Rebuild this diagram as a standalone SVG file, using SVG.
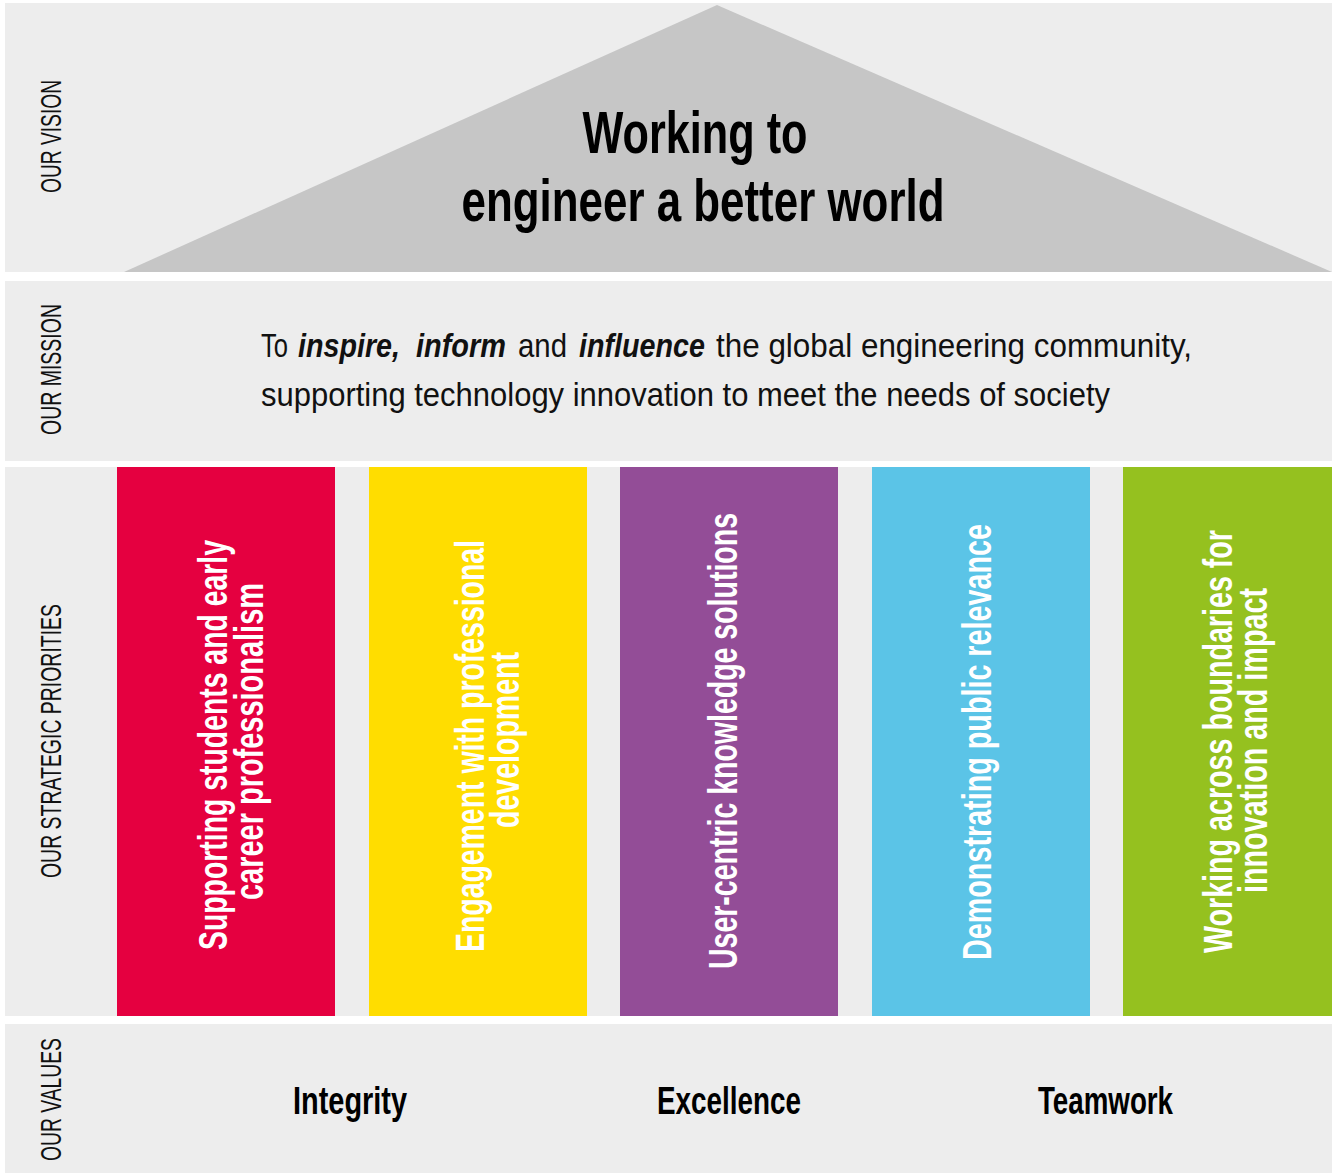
<svg xmlns="http://www.w3.org/2000/svg" width="1333" height="1173" viewBox="0 0 1333 1173">
<style>
.band{fill:#ededed}
.side{font-family:"Liberation Sans Narrow","Liberation Sans",Arial,sans-serif;font-size:29px;fill:#111;text-anchor:middle}
.col{font-family:"Liberation Sans Narrow","Liberation Sans",Arial,sans-serif;font-size:41px;font-weight:bold;fill:#fff;text-anchor:middle}
.title{font-family:"Liberation Sans Narrow","Liberation Sans",Arial,sans-serif;font-size:60px;font-weight:bold;fill:#000;text-anchor:middle}
.mission{font-family:"Liberation Sans Narrow","Liberation Sans",Arial,sans-serif;font-size:34px;fill:#111}
.em{font-weight:bold;font-style:italic}
.value{font-family:"Liberation Sans Narrow","Liberation Sans",Arial,sans-serif;font-size:38px;font-weight:bold;fill:#000;text-anchor:middle}
</style>
<rect width="1333" height="1173" fill="#ffffff"/>
<g id="vision">
<rect class="band" x="5" y="3" width="1327" height="269"/>
<polygon points="717,5 1332,272 124,272" fill="#c6c6c6"/>
<text class="side" transform="translate(61,136.5) rotate(-90)" textLength="113" lengthAdjust="spacingAndGlyphs">OUR VISION</text>
<text class="title" x="695" y="153" textLength="225" lengthAdjust="spacingAndGlyphs">Working to</text>
<text class="title" x="703" y="221" textLength="483" lengthAdjust="spacingAndGlyphs">engineer a better world</text>
</g>
<g id="mission">
<rect class="band" x="5" y="281" width="1327" height="180"/>
<text class="side" transform="translate(61,369.5) rotate(-90)" textLength="131" lengthAdjust="spacingAndGlyphs">OUR MISSION</text>
<text class="mission" x="261" y="357" textLength="27" lengthAdjust="spacingAndGlyphs">To</text>
<text class="mission em" x="298" y="357" textLength="102" lengthAdjust="spacingAndGlyphs">inspire,</text>
<text class="mission em" x="416" y="357" textLength="90" lengthAdjust="spacingAndGlyphs">inform</text>
<text class="mission" x="518" y="357" textLength="49" lengthAdjust="spacingAndGlyphs">and</text>
<text class="mission em" x="579" y="357" textLength="126" lengthAdjust="spacingAndGlyphs">influence</text>
<text class="mission" x="716" y="357" textLength="476" lengthAdjust="spacingAndGlyphs">the global engineering community,</text>
<text class="mission" x="261" y="406" textLength="849" lengthAdjust="spacingAndGlyphs">supporting technology innovation to meet the needs of society</text>
</g>
<g id="priorities">
<rect class="band" x="5" y="467" width="1327" height="549"/>
<text class="side" transform="translate(61,741) rotate(-90)" textLength="274" lengthAdjust="spacingAndGlyphs">OUR STRATEGIC PRIORITIES</text>
</g>
<g id="priority-students">
<rect x="117" y="467" width="218" height="549" fill="#e50040"/>
<text class="col" transform="translate(227,745) rotate(-90)" textLength="410" lengthAdjust="spacingAndGlyphs">Supporting students and early</text>
<text class="col" transform="translate(263,741.5) rotate(-90)" textLength="317" lengthAdjust="spacingAndGlyphs">career professionalism</text>
</g>
<g id="priority-engagement">
<rect x="369" y="467" width="218" height="549" fill="#ffdd00"/>
<text class="col" transform="translate(484,746) rotate(-90)" textLength="412" lengthAdjust="spacingAndGlyphs">Engagement with professional</text>
<text class="col" transform="translate(519,740) rotate(-90)" textLength="176" lengthAdjust="spacingAndGlyphs">development</text>
</g>
<g id="priority-knowledge">
<rect x="620" y="467" width="218" height="549" fill="#934d97"/>
<text class="col" transform="translate(737,741) rotate(-90)" textLength="456" lengthAdjust="spacingAndGlyphs">User-centric knowledge solutions</text>
</g>
<g id="priority-public">
<rect x="872" y="467" width="218" height="549" fill="#5bc4e7"/>
<text class="col" transform="translate(991,742) rotate(-90)" textLength="436" lengthAdjust="spacingAndGlyphs">Demonstrating public relevance</text>
</g>
<g id="priority-boundaries">
<rect x="1123" y="467" width="209" height="549" fill="#95c11f"/>
<text class="col" transform="translate(1232,741.5) rotate(-90)" textLength="423" lengthAdjust="spacingAndGlyphs">Working across boundaries for</text>
<text class="col" transform="translate(1267,740.5) rotate(-90)" textLength="305" lengthAdjust="spacingAndGlyphs">innovation and impact</text>
</g>
<g id="values">
<rect class="band" x="5" y="1024" width="1327" height="149"/>
<text class="side" transform="translate(61,1099.5) rotate(-90)" textLength="123" lengthAdjust="spacingAndGlyphs">OUR VALUES</text>
<text class="value" x="350" y="1114" textLength="114" lengthAdjust="spacingAndGlyphs">Integrity</text>
<text class="value" x="729" y="1114" textLength="144" lengthAdjust="spacingAndGlyphs">Excellence</text>
<text class="value" x="1105.5" y="1114" textLength="135" lengthAdjust="spacingAndGlyphs">Teamwork</text>
</g>
<g id="connectors"/>
</svg>
